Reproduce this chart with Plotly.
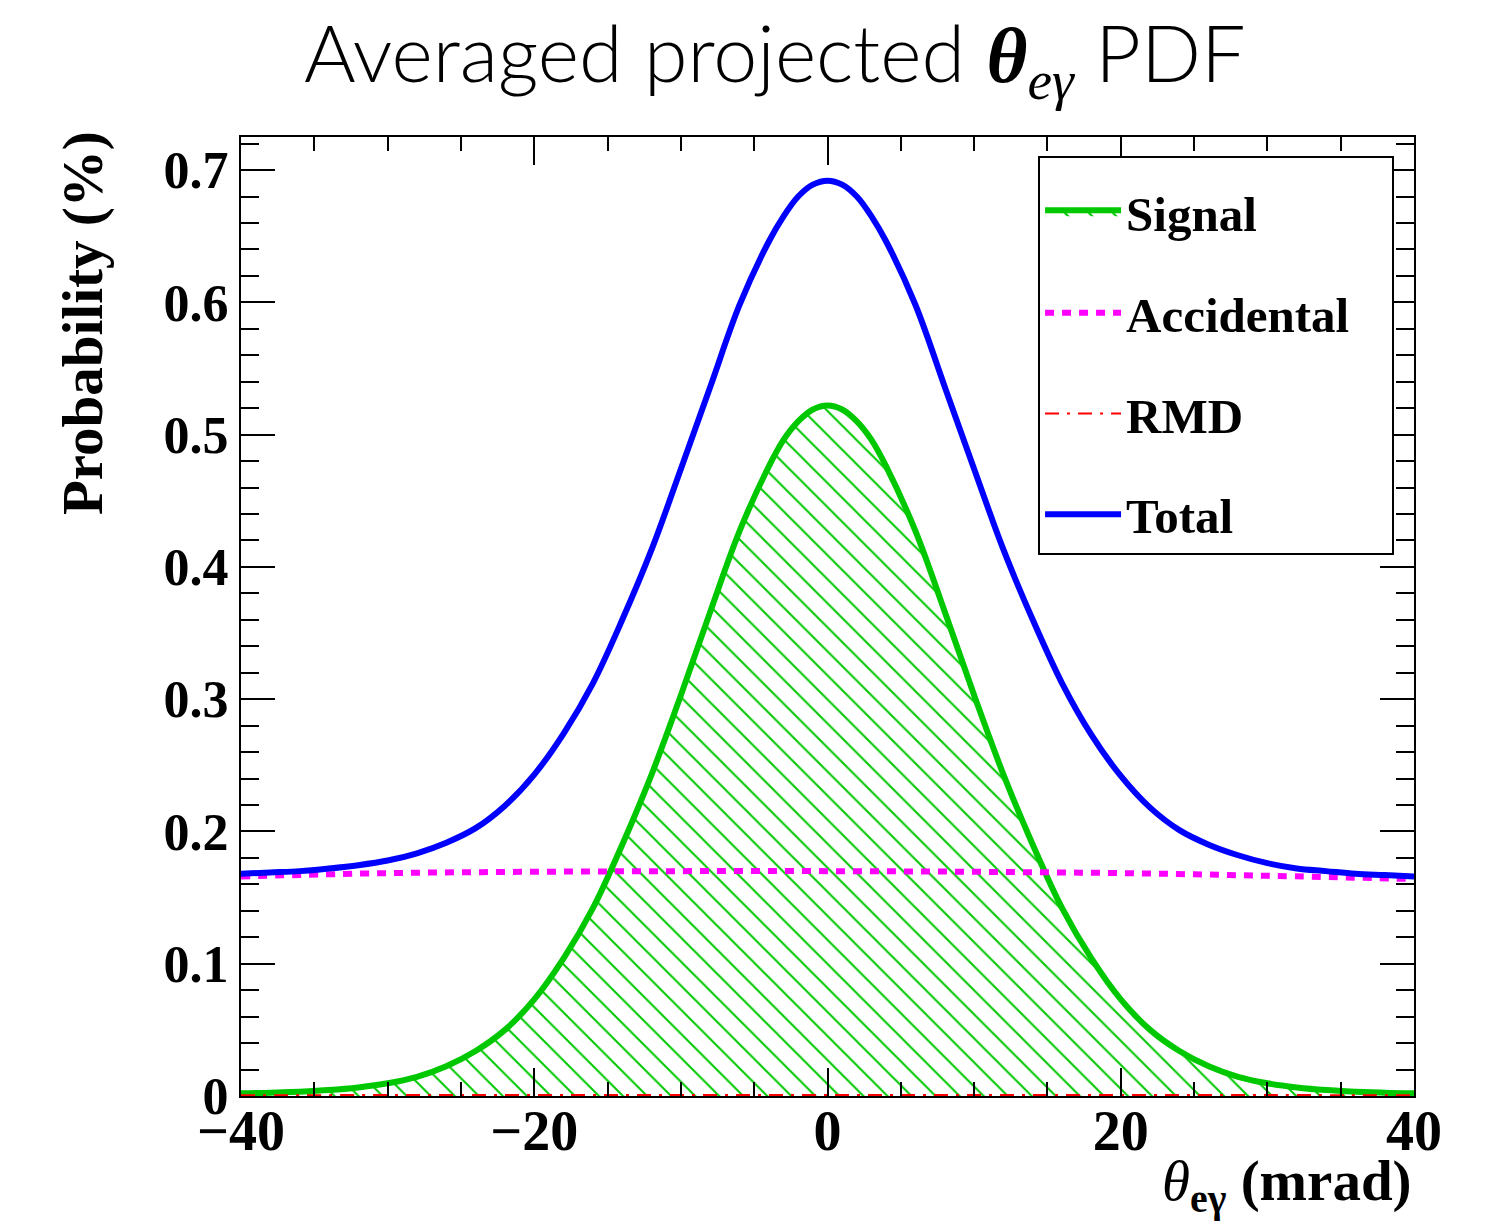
import plotly.graph_objects as go

# ---------------- data ----------------
x_fine = [-40, -38, -36, -34, -32, -30, -28, -26, -24, -22, -20, -18, -16, -14, -12, -10, -8, -6, -4, -3, -2, -1,
          0, 1, 2, 3, 4, 6, 8, 10, 12, 14, 16, 18, 20, 22, 24, 26, 28, 30, 32, 34, 36, 38, 40]

signal = [0.002, 0.0025, 0.0033, 0.0045, 0.0065, 0.0096, 0.0145, 0.0225, 0.034, 0.050, 0.073, 0.104,
          0.142, 0.190, 0.243, 0.303, 0.366, 0.427, 0.476, 0.496, 0.510, 0.519, 0.522, 0.519, 0.510, 0.496,
          0.476, 0.427, 0.366, 0.303, 0.243, 0.190, 0.142, 0.104, 0.073, 0.050, 0.034, 0.0225, 0.0145,
          0.0096, 0.0065, 0.0045, 0.0033, 0.0025, 0.002]

total = [0.168, 0.169, 0.170, 0.172, 0.1745, 0.178, 0.1835, 0.1915, 0.2025, 0.2195, 0.243, 0.274, 0.312,
         0.360, 0.413, 0.474, 0.536, 0.598, 0.646, 0.665, 0.680, 0.689, 0.692, 0.689, 0.680, 0.665, 0.646,
         0.598, 0.536, 0.474, 0.413, 0.360, 0.312, 0.273, 0.242, 0.218, 0.201, 0.190, 0.182, 0.176, 0.172,
         0.170, 0.168, 0.167, 0.166]

x_coarse = [-40, -30, -20, -10, 0, 10, 20, 30, 40]
accidental = [0.166, 0.1685, 0.1695, 0.170, 0.170, 0.1695, 0.1685, 0.1665, 0.164]
rmd = [0.0006, 0.0007, 0.0008, 0.0008, 0.0008, 0.0008, 0.0008, 0.0007, 0.0006]

x_range = [-40, 40]
y_range = [0, 0.725]

# ---------------- styles ----------------
GREEN = "rgb(0,200,0)"
BLUE = "rgb(0,0,255)"
MAGENTA = "rgb(255,0,255)"
RED = "rgb(255,0,0)"
SERIF = "Liberation Serif"

fig = go.Figure()

fig.add_trace(go.Scatter(
    x=x_fine, y=signal, name="Signal", mode="lines", line=dict(color=GREEN, width=6, shape="spline"),
    fill="tozeroy", fillcolor="rgba(0,0,0,0)",
    fillpattern=dict(shape="\\", fgcolor=GREEN, bgcolor="rgba(0,0,0,0)", size=17, solidity=0.12,
                     fillmode="replace"),
    legendgroup="a"))
fig.add_trace(go.Scatter(
    x=x_coarse, y=accidental, name="Accidental", mode="lines",
    line=dict(color=MAGENTA, width=6, dash="9px,8px", shape="spline"), legendgroup="b"))
fig.add_trace(go.Scatter(
    x=x_coarse, y=rmd, name="RMD", mode="lines",
    line=dict(color=RED, width=2, dash="14px,8px,3px,8px", shape="spline"), legendgroup="c"))
fig.add_trace(go.Scatter(
    x=x_fine, y=total, name="Total", mode="lines", line=dict(color=BLUE, width=6, shape="spline"),
    legendgroup="d"))

axis_common = dict(
    showline=True, linecolor="black", linewidth=2, mirror="allticks",
    ticks="inside", tickcolor="black", tickwidth=2,
    showgrid=False, zeroline=False,
)

fig.update_xaxes(range=x_range, dtick=20, tick0=0, ticklen=28, ticklabelstandoff=-15,
                 tickfont=dict(family=SERIF, size=56, color="black", weight="bold"),
                 minor=dict(dtick=5, ticklen=14, ticks="inside", tickcolor="black", tickwidth=2),
                 **axis_common)
fig.update_yaxes(range=y_range, dtick=0.1, tick0=0, ticklen=34,
                 tickfont=dict(family=SERIF, size=52, color="black", weight="bold"),
                 minor=dict(dtick=0.02, ticklen=18, ticks="inside", tickcolor="black", tickwidth=2),
                 **axis_common)

legend_pad = "&nbsp;" * 116

fig.update_layout(
    width=1496, height=1221,
    margin=dict(l=241, r=82, t=137, b=125),
    paper_bgcolor="white", plot_bgcolor="white",
    showlegend=True,
    legend=dict(
        x=0.6795, y=0.98, xanchor="left", yanchor="top",
        bgcolor="white", bordercolor="black", borderwidth=2,
        font=dict(family=SERIF, size=49, color="black", weight="bold"),
        title=dict(text=legend_pad, font=dict(size=12)),
        itemwidth=76, tracegroupgap=34, traceorder="grouped",
    ),
    annotations=[
        dict(text="Averaged projected <span style='font-family:Liberation Serif'><b><i>θ</i></b><sub><i>eγ</i></sub></span> PDF",
             xref="paper", yref="paper", x=0.455, y=1.0, yshift=135, xanchor="center", yanchor="top",
             showarrow=False, font=dict(family="Lato", size=79, color="black", weight=300)),
        dict(text="<b>Probability (%)</b>", textangle=-90,
             xref="paper", yref="paper", x=0, xshift=-158, y=1.0, yshift=8, xanchor="center", yanchor="top",
             showarrow=False, font=dict(family=SERIF, size=57, color="black")),
        dict(text="<i>θ</i><sub><b>eγ</b></sub> <b>(mrad)</b>",
             xref="paper", yref="paper", x=1.0, y=0, yshift=-127, xanchor="right", yanchor="bottom",
             showarrow=False, font=dict(family=SERIF, size=57, color="black")),
    ],
)

fig.write_html("out.html")
